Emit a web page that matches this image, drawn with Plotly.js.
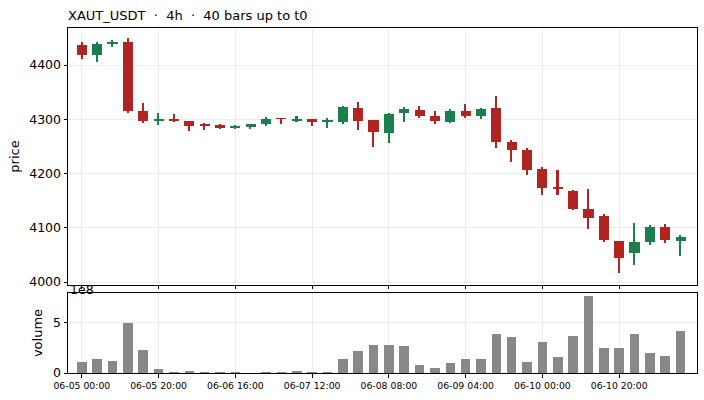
<!DOCTYPE html>
<html>
<head>
<meta charset="utf-8">
<script src="https://cdn.plot.ly/plotly-3.0.1.min.js"></script>
<style>
  html, body { margin: 0; padding: 0; background: #fff; }
  #chart { width: 704px; height: 400px; }
</style>
</head>
<body>
<div id="chart"></div>
<script>
// ── bougies 4h XAUT_USDT, 40 barres jusqu'à t0 ───────────────────────────────
const times = [
  '06-05 00:00','06-05 04:00','06-05 08:00','06-05 12:00','06-05 16:00',
  '06-05 20:00','06-06 00:00','06-06 04:00','06-06 08:00','06-06 12:00',
  '06-06 16:00','06-06 20:00','06-07 00:00','06-07 04:00','06-07 08:00',
  '06-07 12:00','06-07 16:00','06-07 20:00','06-08 00:00','06-08 04:00',
  '06-08 08:00','06-08 12:00','06-08 16:00','06-08 20:00','06-09 00:00',
  '06-09 04:00','06-09 08:00','06-09 12:00','06-09 16:00','06-09 20:00',
  '06-10 00:00','06-10 04:00','06-10 08:00','06-10 12:00','06-10 16:00',
  '06-10 20:00','06-11 00:00','06-11 04:00','06-11 08:00','06-11 12:00'
];
const open  = [4436.8,4418.4,4438.7,4442.3,4315.3,4297.5,4300.6,4296.9,4290.0,4289.6,
               4284.0,4285.8,4291.4,4301.0,4298.0,4300.6,4295.7,4295.1,4320.9,4298.8,
               4275.5,4312.3,4317.2,4306.1,4295.7,4315.3,4306.1,4320.8,4258.4,4243.7,
               4208.9,4174.0,4168.5,4135.5,4120.8,4074.9,4053.5,4073.7,4100.6,4075.5];
const high  = [4441.7,4441.7,4445.4,4449.1,4330.1,4311.0,4309.2,4296.9,4292.6,4290.8,
               4289.6,4291.4,4303.7,4301.8,4306.0,4300.6,4302.5,4324.5,4331.3,4298.8,
               4311.0,4322.1,4324.5,4314.7,4319.0,4328.2,4320.8,4342.8,4261.5,4246.8,
               4211.9,4207.0,4170.3,4172.2,4125.7,4074.9,4109.2,4104.3,4107.3,4087.2];
const low   = [4411.7,4406.1,4432.5,4312.3,4292.6,4290.2,4295.7,4277.9,4280.4,4282.8,
               4282.8,4282.8,4288.3,4292.0,4295.7,4288.3,4283.4,4290.8,4279.8,4248.5,
               4255.8,4294.5,4303.1,4292.0,4293.9,4303.1,4301.2,4246.2,4220.5,4196.6,
               4160.0,4160.0,4132.4,4097.6,4073.7,4017.4,4031.5,4068.2,4071.9,4048.6];
const close = [4418.4,4438.7,4442.3,4315.3,4297.5,4299.4,4296.9,4287.7,4289.0,4284.7,
               4287.7,4291.4,4300.6,4300.5,4300.0,4295.7,4297.0,4322.7,4297.5,4277.3,
               4309.8,4319.0,4306.7,4297.5,4315.3,4306.7,4319.0,4258.4,4243.7,4207.0,
               4174.0,4172.8,4135.5,4117.1,4076.8,4043.7,4073.1,4100.6,4077.4,4082.3];
const volume = [1.13,1.43,1.23,5.03,2.33,0.43,0.13,0.23,0.13,0.13,
                0.13,0.0,0.13,0.13,0.23,0.13,0.13,1.43,2.23,2.83,
                2.83,2.73,0.83,0.53,1.03,1.43,1.43,3.93,3.63,1.13,
                3.13,1.63,3.73,7.73,2.53,2.53,3.93,2.03,1.73,4.23].map(v => v * 1e8);
const tickLabels = ['06-05 00:00','06-05 20:00','06-06 16:00','06-07 12:00',
                    '06-08 08:00','06-09 04:00','06-10 00:00','06-10 20:00'];
const priceTicks = [4000, 4100, 4200, 4300, 4400];

const UP = '#1a7f4c', DOWN = '#b2241f', GRID = '#ececec';
const colors = close.map((c, i) => c >= open[i] ? UP : DOWN);
const FONT = 'DejaVu Sans, sans-serif';

const traces = [
  // mèches
  {type:'bar', x:times, base:low, y:high.map((h, i) => h - low[i]), width:0.1,
   marker:{color:colors}, xaxis:'x', yaxis:'y', hoverinfo:'skip', showlegend:false},
  // corps
  {type:'bar', x:times, base:open.map((o, i) => Math.min(o, close[i])),
   y:open.map((o, i) => Math.max(Math.abs(close[i] - o), 0.8)), width:0.66,
   marker:{color:colors}, xaxis:'x', yaxis:'y', showlegend:false,
   customdata:open.map((o, i) => [o, high[i], low[i], close[i]]),
   hovertemplate:'%{x}<br>O %{customdata[0]} H %{customdata[1]}<br>L %{customdata[2]} C %{customdata[3]}<extra></extra>'},
  // volume
  {type:'bar', x:times, y:volume, width:0.62, marker:{color:'#888888'},
   xaxis:'x2', yaxis:'y2', showlegend:false,
   hovertemplate:'%{x}<br>vol. %{y:.3s}<extra></extra>'}
];

const frame = {showline:true, mirror:true, linecolor:'#000', linewidth:1,
               ticks:'outside', ticklen:3.5, tickcolor:'#000', tickwidth:1,
               showgrid:true, gridcolor:GRID, gridwidth:0.8, zeroline:false};

const layout = {
  width:704, height:400,
  margin:{l:68, r:7, t:28, b:27},
  paper_bgcolor:'#fff', plot_bgcolor:'#fff',
  font:{family:FONT, color:'#000', size:12.5},
  barmode:'overlay', bargap:0,
  title:{text:'XAUT_USDT  ·  4h  ·  40 bars up to t0', font:{family:FONT, size:13},
         x:68/704, xanchor:'left', xref:'container', y:1 - 15/400, yanchor:'middle', yref:'container'},
  xaxis:Object.assign({}, frame, {type:'category', domain:[0, 1], anchor:'y',
         range:[-0.9, 40.07], tickvals:tickLabels, showticklabels:false}),
  yaxis:Object.assign({}, frame, {domain:[0.2551, 1], anchor:'x', range:[3994.5, 4468.2],
         tickvals:priceTicks, title:{text:'price', font:{family:FONT, size:13}, standoff:6}}),
  xaxis2:Object.assign({}, frame, {type:'category', domain:[0, 1], anchor:'y2', matches:'x',
         tickvals:tickLabels, ticktext:tickLabels, tickangle:0, tickfont:{size:9.3}}),
  yaxis2:Object.assign({}, frame, {domain:[0, 0.2319], anchor:'x2', range:[0, 8e8],
         tickvals:[0, 5e8], ticktext:['0', '5'],
         title:{text:'volume', font:{family:FONT, size:13}, standoff:7}}),
  annotations:[{text:'1e8', xref:'paper', yref:'paper', x:0, y:0.2319,
                xanchor:'left', yanchor:'bottom', showarrow:false, yshift:-6,
                font:{family:FONT, size:12.5}}]
};

Plotly.newPlot('chart', traces, layout, {displayModeBar:false, staticPlot:false});
</script>
</body>
</html>
